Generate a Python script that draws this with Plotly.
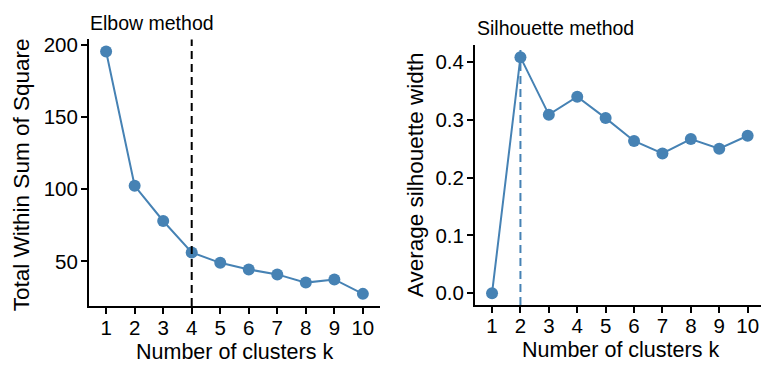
import plotly.graph_objects as go

# Cluster counts evaluated
k_values = [1, 2, 3, 4, 5, 6, 7, 8, 9, 10]

# Elbow method: total within-cluster sum of squares
wss = [195.4, 102.4, 78.0, 56.2, 49.0, 44.4, 41.0, 35.3, 37.5, 27.5]
elbow_k = 4

# Silhouette method: average silhouette width
silhouette = [0.0, 0.4085, 0.309, 0.340, 0.303, 0.2634, 0.2418, 0.2668, 0.250, 0.2725]
silhouette_k = 2

y1_ticks = [50, 100, 150, 200]
y2_ticks = [0.0, 0.1, 0.2, 0.3, 0.4]
y2_labels = ["0.0", "0.1", "0.2", "0.3", "0.4"]

W, H = 761, 365
STEEL = "#4682B4"
FONT = "Liberation Sans, Arial, sans-serif"


def expand(vals, frac=0.05):
    lo, hi = min(vals), max(vals)
    pad = (hi - lo) * frac
    return [lo - pad, hi + pad]


fig = go.Figure()

fig.add_trace(go.Scatter(
    x=k_values, y=wss, xaxis="x", yaxis="y", mode="lines+markers",
    line=dict(color=STEEL, width=2),
    marker=dict(color=STEEL, size=12),
    showlegend=False, hoverinfo="x+y",
))
fig.add_trace(go.Scatter(
    x=k_values, y=silhouette, xaxis="x2", yaxis="y2", mode="lines+markers",
    line=dict(color=STEEL, width=2),
    marker=dict(color=STEEL, size=12),
    showlegend=False, hoverinfo="x+y",
))

# pixel layout of the two panels
L_x0, L_x1, L_top, L_bot = 89, 380, 34, 305
R_x0, R_x1, R_top, R_bot = 475, 761, 40, 304
R_step = 28.4  # pixels per cluster step in the right panel

axis_common = dict(
    showline=True, linecolor="black", linewidth=2,
    ticks="outside", ticklen=6, tickwidth=1.5, tickcolor="black",
    showgrid=False, zeroline=False,
    tickfont=dict(family=FONT, size=20.5, color="black"),
)

fig.update_layout(
    width=W, height=H,
    margin=dict(l=0, r=0, t=0, b=0),
    paper_bgcolor="white", plot_bgcolor="white",
    font=dict(family=FONT, color="black"),
    xaxis=dict(domain=[L_x0 / W, L_x1 / W], anchor="y",
               range=[0.4, 10.6], tickvals=k_values,
               ticklabelstandoff=-4, **axis_common),
    yaxis=dict(domain=[1 - L_bot / H, 1 - L_top / H], anchor="x",
               range=expand(wss), tickvals=y1_ticks,
               ticklabelstandoff=-1, **axis_common),
    xaxis2=dict(domain=[R_x0 / W, 1.0], anchor="y2",
                range=[0.4, 0.4 + (R_x1 - R_x0) / R_step],
                tickvals=k_values, ticklabelstandoff=-5, **axis_common),
    yaxis2=dict(domain=[1 - R_bot / H, 1 - R_top / H], anchor="x2",
                range=expand(silhouette), tickvals=y2_ticks,
                ticktext=y2_labels, ticklabelstandoff=-1, **axis_common),
)

# optimal-k reference lines
fig.add_shape(type="line", xref="x", yref="y domain",
              x0=elbow_k, x1=elbow_k, y0=0, y1=1,
              line=dict(color="black", width=2, dash="8px,5px"))
fig.add_shape(type="line", xref="x2", yref="y2 domain",
              x0=silhouette_k, x1=silhouette_k, y0=0, y1=1,
              line=dict(color=STEEL, width=2, dash="8px,5px"))

title_font = dict(family=FONT, size=19.5, color="black")
x_title_font = dict(family=FONT, size=21.5, color="black")
y_title_font = dict(family=FONT, size=22.5, color="black")

ann = [
    dict(text="Elbow method", x=(L_x0 - 1) / W, y=1 - 17 / H, xanchor="left",
         yanchor="middle", font=title_font),
    dict(text="Silhouette method", x=R_x0 / W, y=1 - 22 / H, xanchor="left",
         yanchor="middle", font=title_font),
    dict(text="Number of clusters k", x=(L_x0 + L_x1) / 2 / W, y=1 - 352 / H,
         xanchor="center", yanchor="middle", font=x_title_font),
    dict(text="Number of clusters k", x=620 / W, y=1 - 350 / H,
         xanchor="center", yanchor="middle", font=x_title_font),
    dict(text="Total Within Sum of Square", x=21 / W, y=1 - 172 / H, textangle=-90,
         xanchor="center", yanchor="middle", font=y_title_font),
    dict(text="Average silhouette width", x=415 / W, y=1 - 172 / H, textangle=-90,
         xanchor="center", yanchor="middle", font=y_title_font),
]
for a in ann:
    fig.add_annotation(xref="paper", yref="paper", showarrow=False, **a)

fig.write_html("out.html")
